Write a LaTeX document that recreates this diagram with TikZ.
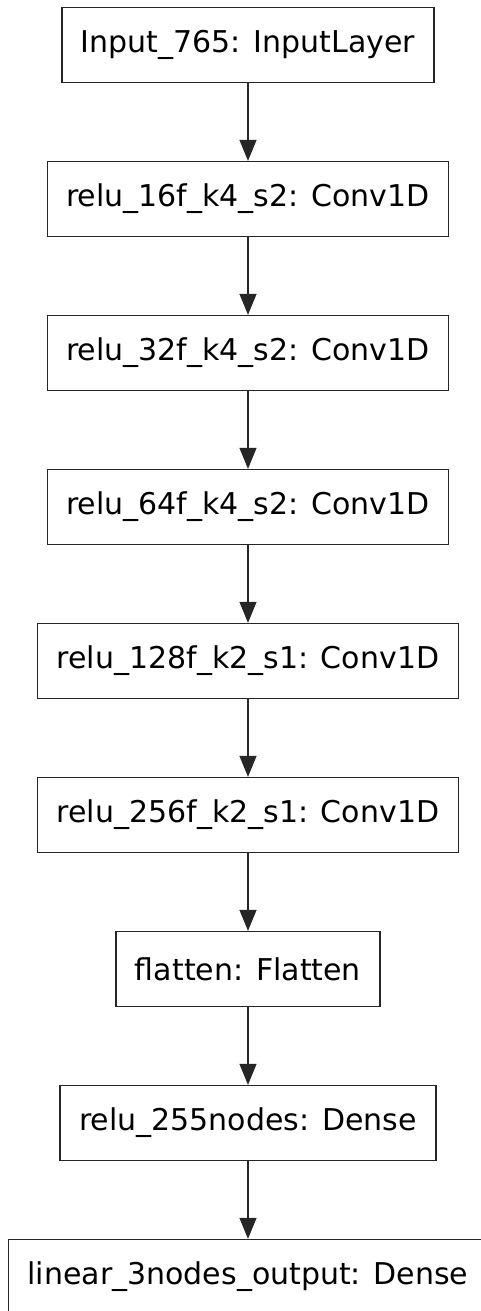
\documentclass[tikz,border=0pt]{standalone}
\usepackage{fontspec}
\setmainfont{DejaVu Sans}
\usetikzlibrary{arrows.meta,positioning}
\begin{document}
\begin{tikzpicture}[
  x=1pt,y=1pt,
  font=\fontsize{30}{36}\selectfont,
  box/.style={draw=black!85,line width=1.3pt,inner xsep=19pt,minimum height=75pt},
  node distance=77.7pt,
  >={Triangle[length=21pt,width=17pt]}]
\useasboundingbox (0,0) rectangle (481,-1311);
\node[box] (inp) at (248,-45) {Input\_765: InputLayer};
\node[box,below=of inp] (c16) {relu\_16f\_k4\_s2: Conv1D};
\node[box,below=of c16] (c32) {relu\_32f\_k4\_s2: Conv1D};
\node[box,below=of c32] (c64) {relu\_64f\_k4\_s2: Conv1D};
\node[box,below=of c64] (c128) {relu\_128f\_k2\_s1: Conv1D};
\node[box,below=of c128] (c256) {relu\_256f\_k2\_s1: Conv1D};
\node[box,below=of c256] (flat) {flatten: Flatten};
\node[box,below=of flat] (dense) {relu\_255nodes: Dense};
\node[box,below=of dense] (out) {linear\_3nodes\_output: Dense};
\draw[->,line width=1.3pt,black!85] (inp) -- (c16);
\draw[->,line width=1.3pt,black!85] (c16) -- (c32);
\draw[->,line width=1.3pt,black!85] (c32) -- (c64);
\draw[->,line width=1.3pt,black!85] (c64) -- (c128);
\draw[->,line width=1.3pt,black!85] (c128) -- (c256);
\draw[->,line width=1.3pt,black!85] (c256) -- (flat);
\draw[->,line width=1.3pt,black!85] (flat) -- (dense);
\draw[->,line width=1.3pt,black!85] (dense) -- (out);
\end{tikzpicture}
\end{document}
